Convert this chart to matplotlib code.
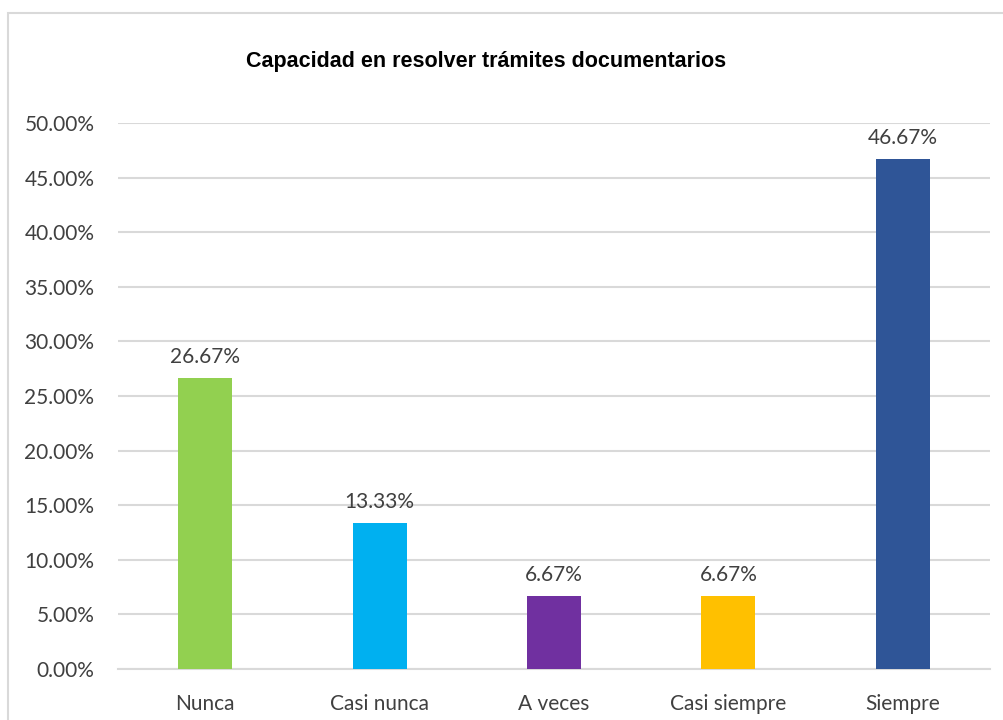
import matplotlib
matplotlib.use("Agg")
import matplotlib.pyplot as plt
from matplotlib.patches import Rectangle
from matplotlib.ticker import FuncFormatter, MultipleLocator

categories = ["Nunca", "Casi nunca", "A veces", "Casi siempre", "Siempre"]
values = [0.2667, 0.1333, 0.0667, 0.0667, 0.4667]
labels = ["26.67%", "13.33%", "6.67%", "6.67%", "46.67%"]
colors = ["#92D050", "#00B0F0", "#7030A0", "#FFC000", "#2F5597"]
title = "Capacidad en resolver trámites documentarios"

W, H = 1004, 720
fig = plt.figure(figsize=(W / 100, H / 100), dpi=100)
fig.patch.set_facecolor("white")

# chart frame (cropped at right and bottom)
fig.patches.append(Rectangle((8 / W, -0.1), 1.2, (H - 13) / H + 0.1,
                             transform=fig.transFigure, fill=False,
                             edgecolor="#D9D9D9", linewidth=1.5))

ax = fig.add_axes([118 / W, 1 - 669 / H, (990 - 118) / W, (669 - 123) / H])
x = range(len(categories))
ax.bar(x, values, width=0.31, color=colors, zorder=3)
ax.set_ylim(0, 0.5)
ax.set_xlim(-0.5, len(categories) - 0.5)
ax.yaxis.set_major_locator(MultipleLocator(0.05))
ax.yaxis.set_major_formatter(FuncFormatter(lambda v, p: f"{v*100:.2f}%"))
ax.grid(axis="y", color="#D9D9D9", linewidth=1.5, zorder=0)
for s in ["top", "right", "left"]:
    ax.spines[s].set_visible(False)
ax.spines["bottom"].set_color("#D9D9D9")
ax.spines["bottom"].set_linewidth(1.5)
ax.tick_params(axis="both", length=0, labelsize=15, labelcolor="#404040")
ax.tick_params(axis="y", pad=17)
ax.tick_params(axis="x", pad=18)
ax.set_xticks(list(x))
ax.set_xticklabels(categories, fontfamily="Lato")
for t in ax.get_yticklabels():
    t.set_fontfamily("Lato")

for xi, v, lab in zip(x, values, labels):
    ax.annotate(lab, (xi, v), xytext=(0, 8), textcoords="offset points",
                ha="center", va="bottom", fontsize=15, color="#404040",
                fontfamily="Lato")

fig.text(486 / W, 1 - 62 / H, title, ha="center", va="center",
         fontsize=15.5, fontweight="bold", fontfamily="Liberation Sans",
         color="black")

fig.savefig("out.png", dpi=100, facecolor="white")
